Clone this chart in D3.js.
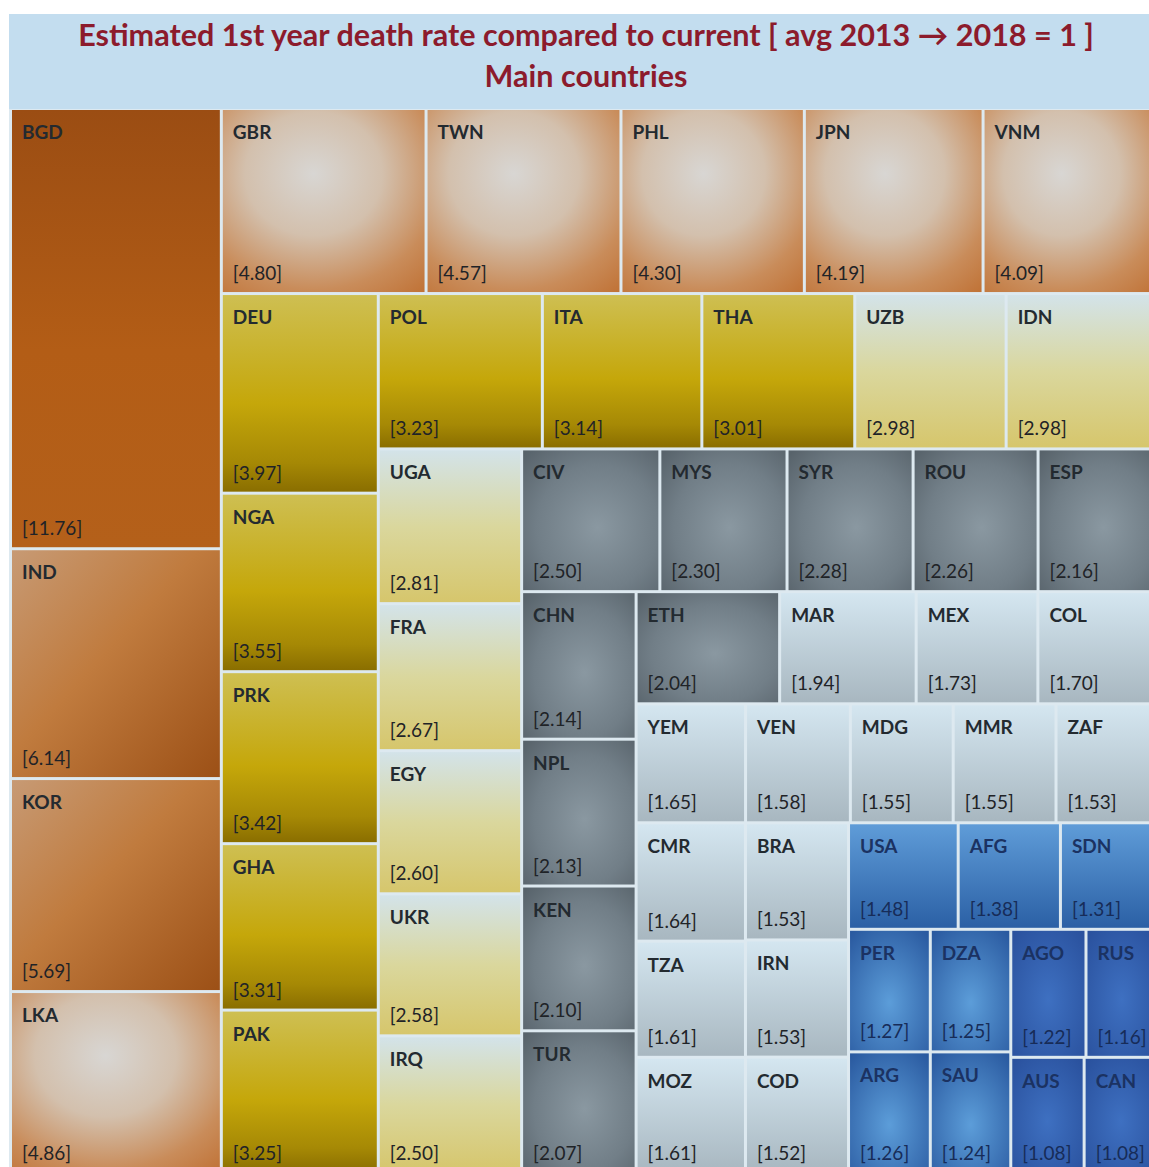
<!DOCTYPE html>
<html><head><meta charset="utf-8">
<script src="https://cdn.jsdelivr.net/npm/d3@7"></script>
<style>
html,body{margin:0;padding:0;background:#fff;}
svg{display:block;}
</style></head><body>
<svg id="chart" width="1149" height="1167"></svg>
<script>
// ---------------- DATA ----------------
const titleLines = ["Estimated 1st year death rate compared to current [ avg 2013 \u2192 2018 = 1 ]", "Main countries"];

const countries = ["BGD","IND","KOR","LKA","GBR","TWN","PHL","JPN","VNM","DEU","NGA","PRK","GHA","PAK",
  "POL","ITA","THA","UZB","IDN","UGA","FRA","EGY","UKR","IRQ","CIV","MYS","SYR","ROU","ESP",
  "CHN","NPL","KEN","TUR","ETH","MAR","MEX","COL","YEM","VEN","MDG","MMR","ZAF",
  "CMR","TZA","MOZ","BRA","IRN","COD","USA","AFG","SDN","PER","ARG","DZA","SAU","AGO","RUS","AUS","CAN"];
const values = [11.76,6.14,5.69,4.86,4.80,4.57,4.30,4.19,4.09,3.97,3.55,3.42,3.31,3.25,
  3.23,3.14,3.01,2.98,2.98,2.81,2.67,2.60,2.58,2.50,2.50,2.30,2.28,2.26,2.16,
  2.14,2.13,2.10,2.07,2.04,1.94,1.73,1.70,1.65,1.58,1.55,1.55,1.53,
  1.64,1.61,1.61,1.53,1.53,1.52,1.48,1.38,1.31,1.27,1.26,1.25,1.24,1.22,1.16,1.08,1.08];

// treemap strips (grouping of cells) and the direction each strip runs
const strips = [
  ["BGD","IND","KOR","LKA"],
  ["GBR","TWN","PHL","JPN","VNM"],
  ["DEU","NGA","PRK","GHA","PAK"],
  ["POL","ITA","THA","UZB","IDN"],
  ["UGA","FRA","EGY","UKR","IRQ"],
  ["CIV","MYS","SYR","ROU","ESP"],
  ["CHN","NPL","KEN","TUR"],
  ["ETH","MAR","MEX","COL"],
  ["YEM","VEN","MDG","MMR","ZAF"],
  ["CMR","TZA","MOZ"],
  ["BRA","IRN","COD"],
  ["USA","AFG","SDN"],
  ["PER","ARG"],
  ["DZA","SAU"],
  ["AGO","RUS"],
  ["AUS","CAN"]
];
const stripDirection = ["column","row","column","row","column","row","column","row",
  "row","column","column","row","column","column","row","row"];

// ---------------- STYLES ----------------
const fillStyle = {
  BGD:"bgd", IND:"orangeDiag", KOR:"orangeDiag", LKA:"orangeGlow",
  GBR:"orangeGlow", TWN:"orangeGlow", PHL:"orangeGlow", JPN:"orangeGlow", VNM:"orangeGlow",
  DEU:"olive", NGA:"olive", PRK:"olive", GHA:"olive", PAK:"olive", POL:"olive", ITA:"olive", THA:"olive",
  UZB:"pale", IDN:"pale", UGA:"pale", FRA:"pale", EGY:"pale", UKR:"pale", IRQ:"pale",
  CIV:"slate", MYS:"slate", SYR:"slate", ROU:"slate", ESP:"slate", CHN:"slate", NPL:"slate", KEN:"slate", TUR:"slate", ETH:"slate",
  MAR:"ice", MEX:"ice", COL:"ice", YEM:"ice", VEN:"ice", MDG:"ice", MMR:"ice", ZAF:"ice",
  CMR:"ice", TZA:"ice", MOZ:"ice", BRA:"ice", IRN:"ice", COD:"ice",
  USA:"blue", AFG:"blue", SDN:"blue", PER:"blueGlow", ARG:"blueGlow", DZA:"blueGlow", SAU:"blueGlow",
  AGO:"navy", RUS:"navy", AUS:"navy", CAN:"navy"
};
const gradients = {
  bgd: {type:"linear", x1:0,y1:0,x2:0,y2:1, stops:[[0,"#9b4d13"],[0.55,"#b35d16"],[1,"#b4601a"]]},
  orangeDiag: {type:"linear", x1:0,y1:0,x2:1,y2:1, stops:[[0,"#c79a74"],[0.45,"#c07b3e"],[1,"#9c5016"]]},
  orangeGlow: {type:"radial", cx:0.45, cy:0.35, r:0.85, stops:[[0,"#d8d6d3"],[0.4,"#d3c0ad"],[0.75,"#c98c5a"],[1,"#c07236"]]},
  olive: {type:"linear", x1:0,y1:0,x2:0,y2:1, stops:[[0,"#cebf52"],[0.3,"#c9b22b"],[0.55,"#c5a70a"],[0.85,"#a68905"],[1,"#8a6e00"]]},
  pale: {type:"linear", x1:0,y1:0,x2:0,y2:1, stops:[[0,"#d3e3e9"],[0.5,"#dad79d"],[1,"#d6c66c"]]},
  slate: {type:"radial", cx:0.55, cy:0.55, r:0.75, stops:[[0,"#8a98a1"],[0.6,"#717e87"],[1,"#58636b"]]},
  ice: {type:"linear", x1:0,y1:0,x2:0,y2:1, stops:[[0,"#d4e6f0"],[1,"#a8b7c0"]]},
  blue: {type:"linear", x1:0,y1:0,x2:0,y2:1, stops:[[0,"#5f9cd8"],[1,"#2b60a5"]]},
  blueGlow: {type:"radial", cx:0.5, cy:0.6, r:0.75, stops:[[0,"#5c9dd9"],[1,"#2a5aa0"]]},
  navy: {type:"radial", cx:0.5, cy:0.55, r:0.75, stops:[[0,"#3e70c1"],[1,"#29509c"]]}
};
const darkLabelStyles = new Set(["blue","blueGlow","navy"]);

// ---------------- CHART ----------------
const W = 1149, H = 1167;
const svg = d3.select("#chart");
const defs = svg.append("defs");
Object.entries(gradients).forEach(([id, g]) => {
  const el = g.type === "linear"
    ? defs.append("linearGradient").attr("id", id).attr("x1", g.x1).attr("y1", g.y1).attr("x2", g.x2).attr("y2", g.y2)
    : defs.append("radialGradient").attr("id", id).attr("cx", g.cx).attr("cy", g.cy).attr("r", g.r).attr("fx", g.cx).attr("fy", g.cy);
  g.stops.forEach(([o, c]) => el.append("stop").attr("offset", o).attr("stop-color", c));
});

// panel + title band
svg.append("rect").attr("x", 9).attr("y", 14).attr("width", W).attr("height", H).attr("fill", "#dde9f0");
svg.append("rect").attr("x", 9).attr("y", 14).attr("width", W).attr("height", 95).attr("fill", "#c3ddef");

const title = svg.append("g").attr("font-family", "Lato, 'Open Sans', sans-serif").attr("font-weight", 700).attr("fill", "#8c1b2c");
const t1 = title.append("text").attr("x", 586).attr("y", 46).attr("text-anchor", "middle").attr("font-size", 29).text(titleLines[0]);
const len = t1.node().getComputedTextLength();
const fs = 29 * 1016 / len;
t1.attr("font-size", fs);
title.append("text").attr("x", 586).attr("y", 87).attr("text-anchor", "middle").attr("font-size", fs).text(titleLines[1]);

// hierarchy
const valueOf = new Map(countries.map((c, i) => [c, values[i]]));
const rootData = {name: "root", children: strips.map((s, i) => ({
  name: "strip" + i, dir: stripDirection[i],
  children: s.map(c => ({name: c, value: valueOf.get(c)}))
}))};
const root = d3.hierarchy(rootData).sum(d => d.value || 0);

function stripTile(node, x0, y0, x1, y1) {
  if (node.depth === 0) {
    let remaining = node.value;
    for (const strip of node.children) {
      const f = strip.value / remaining;
      if (strip.data.dir === "column") {
        const xm = x0 + (x1 - x0) * f;
        strip.x0 = x0; strip.y0 = y0; strip.x1 = xm; strip.y1 = y1;
        x0 = xm;
      } else {
        const ym = y0 + (y1 - y0) * f;
        strip.x0 = x0; strip.y0 = y0; strip.x1 = x1; strip.y1 = ym;
        y0 = ym;
      }
      remaining -= strip.value;
    }
  } else {
    (node.data.dir === "column" ? d3.treemapSlice : d3.treemapDice)(node, x0, y0, x1, y1);
  }
}

const TX = 12, TY = 110, TW = 1144, TH = 1062;
d3.treemap().tile(stripTile).size([TW, TH]).paddingInner(3)(root);

const g = svg.append("g").attr("transform", `translate(${TX},${TY})`);
const cells = g.selectAll("g.cell").data(root.leaves()).join("g").attr("class", "cell")
  .attr("transform", d => `translate(${d.x0},${d.y0})`);
cells.append("rect")
  .attr("width", d => d.x1 - d.x0).attr("height", d => d.y1 - d.y0)
  .attr("fill", d => `url(#${fillStyle[d.data.name]})`);
cells.append("text")
  .attr("x", 10).attr("y", 29)
  .attr("font-family", "Lato, 'Open Sans', sans-serif").attr("font-weight", 700).attr("font-size", 19)
  .attr("fill", d => darkLabelStyles.has(fillStyle[d.data.name]) ? "#1b3262" : "#232a30")
  .text(d => d.data.name);
cells.append("text")
  .attr("x", 10).attr("y", d => d.y1 - d.y0 - 12)
  .attr("font-family", "Lato, 'Open Sans', sans-serif").attr("font-weight", 400).attr("font-size", 19)
  .attr("fill", d => darkLabelStyles.has(fillStyle[d.data.name]) ? "#172c58" : "#1f2327")
  .text(d => "[" + d.data.value.toFixed(2) + "]");
</script>
</body></html>
